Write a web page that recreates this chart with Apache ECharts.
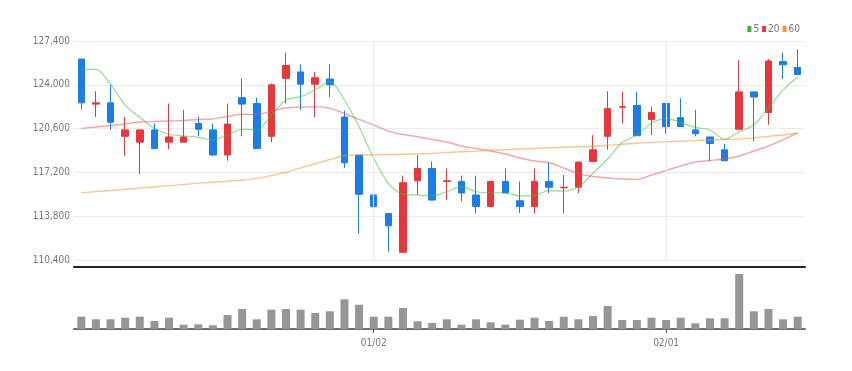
<!DOCTYPE html>
<html><head><meta charset="utf-8">
<script src="https://cdn.jsdelivr.net/npm/echarts@6/dist/echarts.min.js"></script>
<style>html,body{margin:0;padding:0;background:#fff}#c{width:852px;height:371px}</style>
</head><body><div id="c"></div>
<script>
const dates = ['12/02','12/05','12/06','12/07','12/08','12/09','12/12','12/13','12/14','12/15',
  '12/16','12/19','12/20','12/21','12/22','12/23','12/26','12/27','12/28','12/29',
  '01/02','01/03','01/04','01/05','01/06','01/09','01/10','01/11','01/12','01/13',
  '01/16','01/17','01/18','01/19','01/20','01/25','01/26','01/27','01/30','01/31',
  '02/01','02/02','02/03','02/06','02/07','02/08','02/09','02/10','02/13','02/14'];
const monthTicks = ['01/02','02/01'];
const yTicks = [110400, 113800, 117200, 120600, 124000, 127400];

const opens  = [126000,122500,122600,120000,119550,120500,119550,119550,121000,120500,
  118550,123000,122550,120000,124500,125000,124050,124450,121500,118550,
  115450,114000,111000,116550,117500,116500,116500,115450,114550,116500,
  115000,114550,116500,116000,116050,118050,120000,122250,122400,121300,
  122550,121450,120500,119950,118950,120550,123450,121850,125800,125350];
const closes = [122600,122600,121100,120500,120500,119050,119950,119950,120550,118550,
  120950,122500,119050,124000,125500,124050,124550,124000,117950,115500,
  114550,113050,116400,117500,115050,116550,115600,114550,116500,115600,
  114550,116500,116050,116050,118000,118950,122150,122300,120050,121850,
  120750,120750,120200,119450,118100,123450,123050,125850,125550,124800];
const lows   = [122100,121500,120500,118500,117050,119050,119000,119550,120000,118500,
  118100,120000,119050,119550,122550,122050,121500,123050,117550,112450,
  114000,111050,111000,115450,115050,115050,114950,114000,114550,115600,
  114050,114000,115600,114000,115600,118050,118950,121000,120050,120100,
  120200,120750,120000,118100,118100,120550,119600,120900,124450,124800];
const highs  = [126000,123500,124000,121500,120500,121000,122550,122050,121500,121000,
  122550,124500,123000,124100,126500,125600,125000,125600,122000,118550,
  116950,114000,116950,118550,118050,117500,116950,116950,116500,117500,
  116500,117500,118000,117000,118000,120100,123500,123450,123450,122300,
  122550,122950,122050,119950,119400,125900,123450,126000,126500,126750];

const ma5  = [125200,125200,124040,122430,121480,120620,120160,120030,119920,119720,
  120100,120550,120490,121650,122820,123080,123600,124240,122820,120750,
  118290,116350,115520,115450,115370,115700,116090,115700,115620,115620,
  115370,115420,115780,115750,116090,117130,118240,119520,120100,121010,
  121400,121060,120700,120490,119770,120360,120880,122180,123600,124630];
const ma20 = [120620,120720,120840,120960,121110,121150,121190,121230,121310,121350,
  121540,121710,121690,121970,122200,122280,122290,122180,121770,121310,
  120880,120410,120140,119970,119750,119560,119250,119060,118860,118630,
  118320,118080,117950,117540,117110,116880,116770,116690,116660,117000,
  117350,117700,118010,118120,118240,118470,118860,119250,119720,120280];
const ma60 = [115620,115710,115800,115890,115980,116070,116170,116260,116370,116430,
  116520,116610,116740,116950,117210,117550,117870,118200,118490,118550,
  118570,118580,118610,118640,118680,118750,118800,118850,118920,118970,
  119020,119060,119110,119150,119190,119230,119300,119380,119460,119520,
  119580,119620,119670,119710,119750,119790,119890,119990,120100,120240];

const volumes = [123000,97000,97000,113000,123000,80000,113000,43000,47000,37000,
  140000,200000,97000,193000,200000,193000,160000,177000,297000,243000,
  123000,123000,210000,77000,60000,97000,43000,97000,67000,43000,
  93000,113000,80000,123000,97000,130000,230000,90000,90000,113000,
  90000,113000,57000,107000,107000,550000,177000,200000,97000,123000];

const FONT = '"Liberation Sans Narrow","DejaVu Sans Condensed","Roboto Condensed",sans-serif';
const UP = '#e8363b', DOWN = '#1a7de8';
const candle = dates.map((d, i) => [opens[i], closes[i], lows[i], highs[i]]);
const isMonth = (i, v) => monthTicks.indexOf(v) >= 0;

const chart = echarts.init(document.getElementById('c'), null, {renderer: 'canvas'});
chart.setOption({
  animation: false,
  backgroundColor: '#fff',
  textStyle: {fontFamily: FONT},
  legend: {
    right: 47, top: 19, itemWidth: 4, itemHeight: 6, itemGap: 3,
    icon: 'rect',
    textStyle: {fontSize: 10, color: '#777', fontFamily: FONT, padding: [0, 0, 0, -3]},
    data: [
      {name: '5', itemStyle: {color: '#2fb52f', opacity: 1}},
      {name: '20', itemStyle: {color: '#e8363b', opacity: 1}},
      {name: '60', itemStyle: {color: '#f5952f', opacity: 1}}
    ]
  },
  grid: [
    {left: 74, right: 47, top: 41, height: 219},
    {left: 74, right: 47, top: 270, height: 59}
  ],
  xAxis: [
    {type: 'category', gridIndex: 0, data: dates, boundaryGap: true, offset: 7,
     axisLine: {show: true, lineStyle: {color: '#222', width: 2}},
     axisTick: {show: false}, axisLabel: {show: false}, splitLine: {show: false}},
    {type: 'category', gridIndex: 1, data: dates, boundaryGap: true,
     axisLine: {show: true, lineStyle: {color: '#707070', width: 2}},
     axisTick: {show: true, alignWithLabel: true, interval: isMonth, length: 4, lineStyle: {color: '#555'}},
     axisLabel: {show: true, interval: isMonth, color: '#777', fontSize: 10, margin: 9, fontFamily: FONT},
     splitLine: {show: false}}
  ],
  yAxis: [
    {type: 'value', gridIndex: 0, min: yTicks[0], max: yTicks[yTicks.length - 1], interval: yTicks[1] - yTicks[0],
     axisLine: {show: false}, axisTick: {show: false},
     axisLabel: {color: '#777', fontSize: 10, margin: 4, fontFamily: FONT,
       formatter: v => v.toLocaleString('en-US')},
     splitLine: {lineStyle: {color: '#ebebeb', width: 1}}},
    {type: 'value', gridIndex: 1, min: 0, max: 590000, show: false, splitLine: {show: false}}
  ],
  series: [
    {type: 'candlestick', name: 'price', xAxisIndex: 0, yAxisIndex: 0, data: candle, barWidth: 7,
     itemStyle: {color: UP, color0: DOWN, borderColor: UP, borderColor0: DOWN, borderWidth: 1},
     markLine: {silent: true, symbol: 'none', label: {show: false},
       lineStyle: {color: '#ebebeb', type: 'solid', width: 1},
       data: monthTicks.map(v => ({xAxis: v}))}},
    {type: 'line', name: '5', xAxisIndex: 0, yAxisIndex: 0, data: ma5, smooth: 0.3, showSymbol: false,
     itemStyle: {color: '#2fb52f'}, lineStyle: {color: 'rgba(60,190,60,0.55)', width: 1.2}, z: 3},
    {type: 'line', name: '20', xAxisIndex: 0, yAxisIndex: 0, data: ma20, smooth: 0.3, showSymbol: false,
     itemStyle: {color: '#e8363b'}, lineStyle: {color: 'rgba(235,80,90,0.5)', width: 1.4}, z: 3},
    {type: 'line', name: '60', xAxisIndex: 0, yAxisIndex: 0, data: ma60, smooth: 0.3, showSymbol: false,
     itemStyle: {color: '#f5952f'}, lineStyle: {color: 'rgba(245,150,60,0.55)', width: 1.4}, z: 3},
    {type: 'bar', name: 'volume', xAxisIndex: 1, yAxisIndex: 1, data: volumes, barWidth: 8,
     itemStyle: {color: '#969696'}}
  ]
});
</script></body></html>
